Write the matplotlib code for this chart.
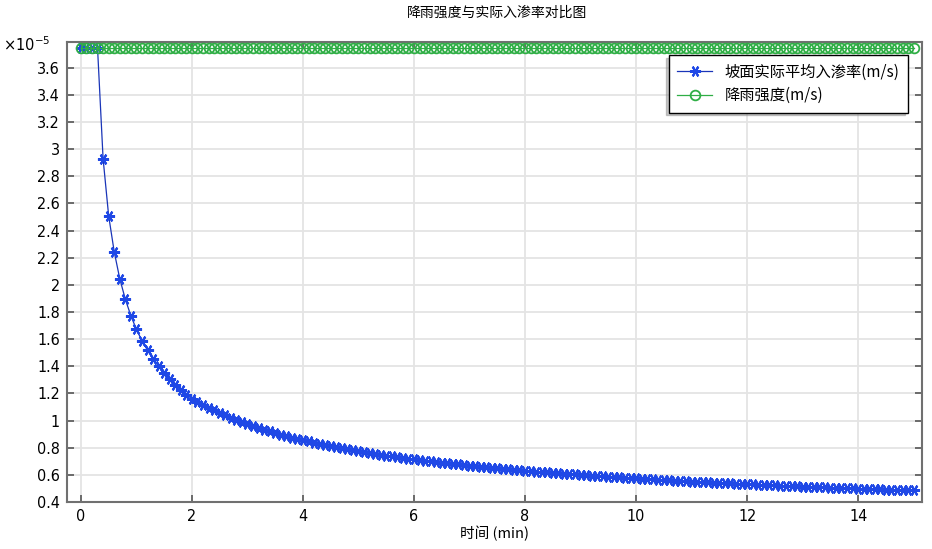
import matplotlib
matplotlib.use("Agg")
import matplotlib.pyplot as plt
from matplotlib.ticker import FuncFormatter, MultipleLocator
import numpy as np

plt.rcParams['font.family'] = ['Noto Sans CJK SC', 'DejaVu Sans']

# time in minutes, 0.1 min steps
t_min = [round(0.1 * i, 1) for i in range(151)]

# rainfall intensity (x1e-5 m/s), constant
rain = [3.745] * 151

infil = [
    3.745, 3.745, 3.745, 3.745, 2.930, 2.510, 2.245, 2.046, 1.895, 1.773,
    1.673, 1.588, 1.519, 1.455, 1.400, 1.351, 1.307, 1.265, 1.224, 1.190,
    1.161, 1.136, 1.114, 1.094, 1.075, 1.057, 1.039, 1.021, 1.004, 0.988,
    0.973, 0.959, 0.945, 0.932, 0.920, 0.908, 0.896, 0.885, 0.875, 0.865,
    0.855, 0.846, 0.837, 0.828, 0.819, 0.811, 0.803, 0.796, 0.788, 0.781,
    0.774, 0.768, 0.761, 0.755, 0.748, 0.742, 0.737, 0.731, 0.725, 0.720,
    0.715, 0.710, 0.704, 0.700, 0.695, 0.690, 0.686, 0.681, 0.677, 0.672,
    0.668, 0.664, 0.660, 0.656, 0.652, 0.649, 0.645, 0.641, 0.638, 0.634,
    0.631, 0.628, 0.624, 0.621, 0.618, 0.615, 0.612, 0.609, 0.606, 0.603,
    0.600, 0.597, 0.594, 0.592, 0.589, 0.586, 0.584, 0.581, 0.579, 0.576,
    0.574, 0.571, 0.569, 0.567, 0.564, 0.562, 0.560, 0.558, 0.556, 0.553,
    0.551, 0.549, 0.547, 0.545, 0.543, 0.541, 0.539, 0.537, 0.535, 0.534,
    0.532, 0.530, 0.528, 0.526, 0.524, 0.523, 0.521, 0.519, 0.518, 0.516,
    0.514, 0.513, 0.511, 0.510, 0.508, 0.506, 0.505, 0.503, 0.502, 0.500,
    0.499, 0.497, 0.496, 0.495, 0.493, 0.492, 0.490, 0.489, 0.488, 0.486,
    0.485,
]

scale = 1e-5
rain_ms = np.array(rain) * scale
infil_ms = np.array(infil) * scale

fig = plt.figure(figsize=(9.32, 5.49), dpi=100)
ax = fig.add_axes([67 / 932, 1 - 502 / 549, 855 / 932, 460 / 549])

ax.plot(t_min, infil_ms, color='#1a35b8', lw=0.9, marker=(6, 2, 90),
        ms=8, mec='#1f48e6', mew=1.5, label='坡面实际平均入渗率(m/s)', zorder=3)
ax.plot(t_min, rain_ms, color='#2fae45', lw=0.9, marker='o', ms=7,
        mfc='none', mec='#2fae45', mew=1.3, label='降雨强度(m/s)', zorder=4)

ax.set_xlim(-0.25, 15.15)
ax.set_ylim(0.4e-5, 3.79e-5)
ax.xaxis.set_major_locator(MultipleLocator(2))
ax.yaxis.set_major_locator(MultipleLocator(0.2e-5))
ax.yaxis.set_major_formatter(FuncFormatter(lambda v, p: '%g' % round(v / scale, 2)))

ax.grid(True, color='#e4e4e4', lw=1.3)
ax.set_axisbelow(True)
for s in ax.spines.values():
    s.set_color('#707070')
    s.set_linewidth(1.5)
ax.tick_params(direction='in', length=5, width=1.2, color='#555555',
               top=True, right=True, labelsize=11.5, pad=5)
for lab in ax.get_xticklabels() + ax.get_yticklabels():
    lab.set_family('DejaVu Sans')
    lab.set_stretch('condensed')

ax.set_xlabel('时间 (min)', fontsize=10.5, labelpad=1)
fig.text(497 / 932, 1 - 13 / 549, '降雨强度与实际入渗率对比图', fontsize=10,
         ha='center', va='center')
fig.text(3 / 932, 1 - 45 / 549, r'$\times10^{-5}$', fontsize=10.5,
         ha='left', va='center', family='DejaVu Sans')

leg = ax.legend(loc='upper right', bbox_to_anchor=(0.9836, 0.9717), fontsize=11,
                frameon=True, fancybox=False, numpoints=1, handlelength=2.3,
                borderpad=0.55, labelspacing=0.45, borderaxespad=0,
                shadow={'ox': -2, 'oy': -2, 'color': '#909090'})
leg.get_frame().set_edgecolor('black')
leg.get_frame().set_linewidth(1.0)
leg.get_frame().set_alpha(1)

fig.savefig('out.png', dpi=100)
